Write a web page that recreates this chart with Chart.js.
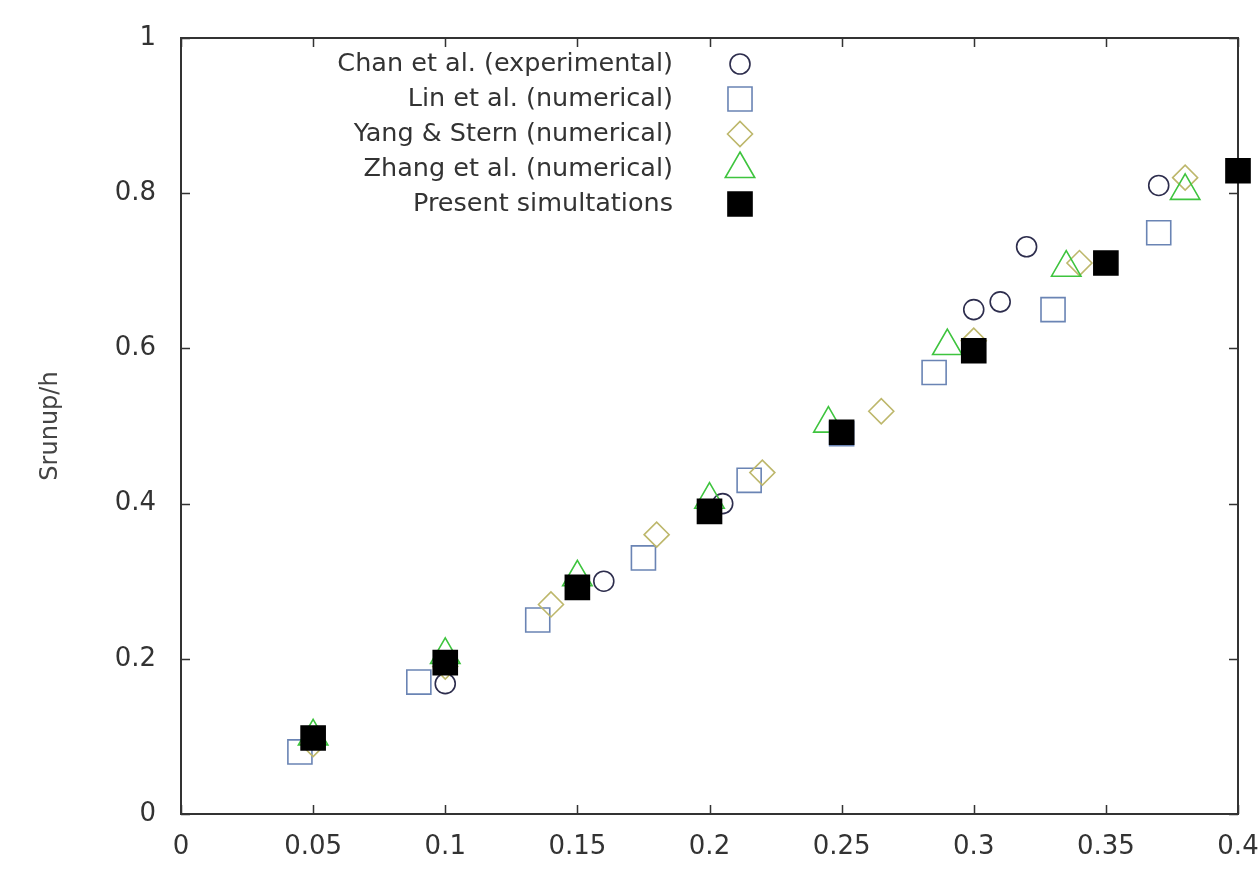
<!DOCTYPE html>
<html>
<head>
<meta charset="utf-8">
<script src="https://cdn.jsdelivr.net/npm/chart.js@4.4.1/dist/chart.umd.min.js"></script>
<style>
html, body { margin: 0; padding: 0; background: #fff; }
#wrap { width: 1259px; height: 873px; }
</style>
</head>
<body>
<div id="wrap"><canvas id="c"></canvas></div>
<script>
// values
const chanX = [0.1, 0.16, 0.205, 0.30, 0.31, 0.32, 0.37];
const chanY = [0.168, 0.30, 0.40, 0.65, 0.66, 0.731, 0.81];
const linX = [0.045, 0.09, 0.135, 0.175, 0.215, 0.25, 0.285, 0.33, 0.37];
const linY = [0.08, 0.17, 0.25, 0.33, 0.43, 0.49, 0.569, 0.65, 0.749];
const yangX = [0.05, 0.1, 0.14, 0.18, 0.22, 0.265, 0.30, 0.34, 0.38];
const yangY = [0.09, 0.19, 0.27, 0.36, 0.44, 0.519, 0.61, 0.71, 0.82];
const zhangX = [0.05, 0.1, 0.15, 0.2, 0.245, 0.29, 0.335, 0.38];
const zhangY = [0.10, 0.205, 0.305, 0.405, 0.503, 0.603, 0.704, 0.803];
const presX = [0.05, 0.1, 0.15, 0.2, 0.25, 0.3, 0.35, 0.4];
const presY = [0.098, 0.195, 0.292, 0.39, 0.492, 0.597, 0.71, 0.829];

const seriesNames = ['Chan et al. (experimental)', 'Lin et al. (numerical)', 'Yang & Stern (numerical)', 'Zhang et al. (numerical)', 'Present simultations'];
const xTickLabels = ['0', '0.05', '0.1', '0.15', '0.2', '0.25', '0.3', '0.35', '0.4'];
const yTickLabels = ['0', '0.2', '0.4', '0.6', '0.8', '1'];

const FONT = 'DejaVu Sans';
const TXT = '#333333';

function pts(xs, ys) {
    return xs.map((x, i) => ({ x: x, y: ys[i] }));
}

function drawMarker(ctx, style, r, x, y) {
    ctx.beginPath();
    if (style === 'circle') {
        ctx.arc(x, y, r, 0, Math.PI * 2);
    } else if (style === 'rect') {
        const s = r * Math.SQRT1_2;
        ctx.rect(x - s, y - s, 2 * s, 2 * s);
    } else if (style === 'rectRot') {
        ctx.moveTo(x - r, y); ctx.lineTo(x, y - r); ctx.lineTo(x + r, y); ctx.lineTo(x, y + r);
        ctx.closePath();
    } else if (style === 'triangle') {
        ctx.moveTo(x, y - r);
        ctx.lineTo(x + r * Math.sin(2 * Math.PI / 3), y - r * Math.cos(2 * Math.PI / 3));
        ctx.lineTo(x + r * Math.sin(4 * Math.PI / 3), y - r * Math.cos(4 * Math.PI / 3));
        ctx.closePath();
    }
}

// gnuplot style frame with inward ticks on all four sides
const framePlugin = {
    id: 'frame',
    beforeDatasetsDraw(chart) {
        const ctx = chart.ctx, a = chart.chartArea;
        const xs = chart.scales.x, ys = chart.scales.y;
        const len = 9;
        ctx.save();
        ctx.strokeStyle = '#333';
        ctx.lineWidth = 2;
        ctx.strokeRect(a.left, a.top, a.right - a.left, a.bottom - a.top);
        ctx.lineWidth = 1.5;
        ctx.beginPath();
        xs.ticks.forEach(t => {
            const px = Math.round(xs.getPixelForValue(t.value)) + 0.5;
            ctx.moveTo(px, a.bottom); ctx.lineTo(px, a.bottom - len);
            ctx.moveTo(px, a.top); ctx.lineTo(px, a.top + len);
        });
        ys.ticks.forEach(t => {
            const py = Math.round(ys.getPixelForValue(t.value)) + 0.5;
            ctx.moveTo(a.left, py); ctx.lineTo(a.left + len, py);
            ctx.moveTo(a.right, py); ctx.lineTo(a.right - len, py);
        });
        ctx.stroke();
        ctx.restore();
    },
    afterDraw(chart) {
        const ctx = chart.ctx;
        const textRight = 673, markX = 740, y0 = 64, step = 35;
        ctx.save();
        ctx.font = '25.5px "' + FONT + '"';
        ctx.textAlign = 'right';
        ctx.textBaseline = 'middle';
        chart.data.datasets.forEach((ds, i) => {
            const y = y0 + i * step;
            ctx.fillStyle = TXT;
            ctx.fillText(ds.label, textRight, y);
            drawMarker(ctx, ds.pointStyle, ds.pointRadius, markX, y);
            if (ds.pointBackgroundColor !== 'transparent') {
                ctx.fillStyle = ds.pointBackgroundColor;
                ctx.fill();
            }
            ctx.strokeStyle = ds.pointBorderColor;
            ctx.lineWidth = ds.pointBorderWidth;
            ctx.stroke();
        });
        ctx.restore();
    }
};

function makeSet(label, data, style, r, stroke, fill, order) {
    return {
        label: label,
        data: data,
        pointStyle: style,
        pointRadius: r,
        pointBorderColor: stroke,
        pointBackgroundColor: fill,
        pointBorderWidth: 1.6,
        showLine: false,
        clip: false,
        order: order
    };
}

const ctx = document.getElementById('c');
new Chart(ctx, {
    type: 'scatter',
    data: {
        datasets: [
            makeSet(seriesNames[0], pts(chanX, chanY), 'circle', 10, '#2d2d4d', 'transparent', 3),
            makeSet(seriesNames[1], pts(linX, linY), 'rect', 17, '#6a84b4', 'transparent', 4),
            makeSet(seriesNames[2], pts(yangX, yangY), 'rectRot', 12.5, '#bdb76b', 'transparent', 2),
            makeSet(seriesNames[3], pts(zhangX, zhangY), 'triangle', 17, '#3ec43e', 'transparent', 1),
            makeSet(seriesNames[4], pts(presX, presY), 'rect', 17, '#000000', '#000000', 0)
        ]
    },
    options: {
        responsive: true,
        maintainAspectRatio: false,
        animation: false,
        events: [],
        layout: { padding: { top: 38, right: 21, left: 0, bottom: 0 } },
        plugins: {
            legend: { display: false },
            tooltip: { enabled: false }
        },
        scales: {
            x: {
                type: 'linear',
                min: 0,
                max: 0.4,
                grid: { display: false, drawTicks: false },
                border: { display: false },
                ticks: {
                    stepSize: 0.05,
                    padding: 18,
                    color: TXT,
                    font: { family: FONT, size: 26 },
                    maxRotation: 0,
                    callback: (v, i) => xTickLabels[i]
                },
                afterFit: s => { s.height = 59; s.paddingLeft = 0; s.paddingRight = 0; }
            },
            y: {
                type: 'linear',
                min: 0,
                max: 1,
                grid: { display: false, drawTicks: false },
                border: { display: false },
                ticks: {
                    stepSize: 0.2,
                    padding: 25,
                    color: TXT,
                    font: { family: FONT, size: 26 },
                    callback: (v, i) => yTickLabels[i]
                },
                title: {
                    display: true,
                    text: 'Srunup/h',
                    color: '#444',
                    font: { family: FONT, size: 24 },
                    padding: { top: 36, bottom: 0 }
                },
                afterFit: s => { s.width = 181; s.paddingTop = 0; s.paddingBottom = 0; }
            }
        }
    },
    plugins: [framePlugin]
});
</script>
</body>
</html>
